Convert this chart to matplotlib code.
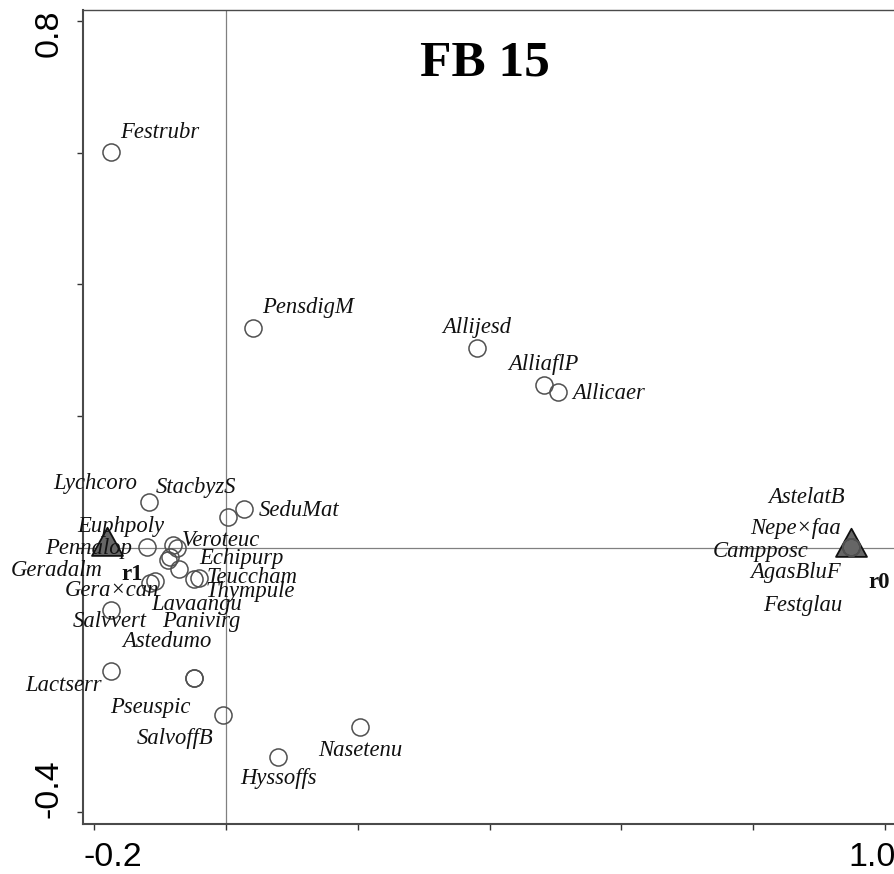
import matplotlib
matplotlib.use("Agg")
import matplotlib.pyplot as plt
import matplotlib.transforms as mtransforms
from matplotlib.path import Path

# ---------------- data ----------------
species = ["Festrubr", "PensdigM", "Allijesd", "AlliaflP", "Allicaer",
           "Lychcoro", "StacbyzS", "SeduMat", "Euphpoly", "Pennalop",
           "Veroteuc", "Echipurp", "Teuccham", "Thympule", "Geradalm",
           "Gera×can", "Lavaangu", "Panivirg", "Salvvert", "Lactserr",
           "Astedumo", "Pseuspic", "SalvoffB", "Nasetenu", "Hyssoffs",
           "AstelatB", "Nepe×faa", "Campposc", "AgasBluF", "Festglau"]
axis1 = [-0.174, 0.041, 0.381, 0.482, 0.504,
         -0.117, 0.003, 0.028, -0.080, -0.120,
         -0.074, -0.085, -0.041, -0.048, -0.115,
         -0.107, -0.071, -0.088, -0.174, -0.174,
         -0.048, -0.048, -0.004, 0.204, 0.079,
         0.949, 0.949, 0.949, 0.949, 0.949]
axis2 = [0.601, 0.334, 0.304, 0.247, 0.237,
         0.070, 0.047, 0.059, 0.005, 0.001,
         0.000, -0.014, -0.046, -0.047, -0.053,
         -0.050, -0.032, -0.018, -0.094, -0.187,
         -0.197, -0.197, -0.253, -0.271, -0.317,
         0.002, 0.002, 0.002, 0.002, 0.002]

samples = ["r1", "r0"]
samp_x = [-0.180, 0.948]
samp_y = [0.003, 0.002]

xticks = [-0.2, 0.0, 0.2, 0.4, 0.6, 0.8, 1.0]
xticklabels = ["-0.2", "", "", "", "", "", "1.0"]
yticks = [-0.4, -0.2, 0.0, 0.2, 0.4, 0.6, 0.8]
yticklabels = ["-0.4", "", "", "", "", "", "0.8"]
title = "FB 15"

# ---------------- layout (label offsets in pixels) ----------------
label_dx = [9, 9, -35, -35, 14,
            -95, -72, 14, -96, -102,
            5, 29, 8, 11, -139,
            -91, -28, -6, -38, -86,
            -72, -84, -86, -42, -38,
            -83, -101, -139, -101, -88]
label_dy = [14, 15, 15, 15, -7,
            13, 24, -7, 13, -7,
            2, -7, -5, -18, 7,
            -15, -41, -67, -17, -20,
            31, -35, -29, -29, -27,
            44, 13, -10, -31, -64]
samp_dx = [14, 18]
samp_dy = [-34, -41]

W, H = 894, 874
fig = plt.figure(figsize=(W / 100, H / 100), dpi=100)
ax = fig.add_axes([83 / W, (H - 823.5) / H, 813 / W, 813.5 / H])
ax.set_xlim(-0.2167, 1.0167)
ax.set_ylim(-0.418, 0.8162)

# zero lines
ax.axvline(0, color="#808080", lw=0.9, zorder=1)
ax.axhline(0, color="#808080", lw=0.9, zorder=1)

# sample triangles (centroid-anchored)
tri = Path([(0, 2 / 3), (-0.55, -1 / 3), (0.55, -1 / 3), (0, 2 / 3)],
           [Path.MOVETO, Path.LINETO, Path.LINETO, Path.CLOSEPOLY])
ax.plot(samp_x, samp_y, linestyle="none", marker=tri, markersize=27,
        markerfacecolor="#666666", markeredgecolor="#111111",
        markeredgewidth=1.3, zorder=3)

# species circles
ax.plot(axis1, axis2, linestyle="none", marker="o", markersize=12.3,
        markerfacecolor="none", markeredgecolor="#505050",
        markeredgewidth=1.1, zorder=4)

for name, x, y, dx, dy in zip(species, axis1, axis2, label_dx, label_dy):
    ax.annotate(name, (x, y), xytext=(dx, dy), textcoords="offset pixels",
                ha="left", va="baseline", fontfamily="Liberation Serif",
                style="italic", fontsize=16.3, color="#111111",
                annotation_clip=False, zorder=5)

for name, x, y, dx, dy in zip(samples, samp_x, samp_y, samp_dx, samp_dy):
    ax.annotate(name, (x, y), xytext=(dx, dy), textcoords="offset pixels",
                ha="left", va="baseline", fontfamily="Liberation Serif",
                fontweight="bold", fontsize=16.5, color="#111111",
                annotation_clip=False, zorder=5)

# title
fig.text(485 / W, (H - 75) / H, title, ha="center", va="baseline",
         fontfamily="Liberation Serif", fontweight="bold", fontsize=37)

# spines & ticks
for s in ["left", "bottom"]:
    ax.spines[s].set_linewidth(1.5)
    ax.spines[s].set_color("#4a4a4a")
ax.spines["top"].set_linewidth(1.0)
ax.spines["top"].set_color("#4a4a4a")
ax.spines["right"].set_visible(False)

ax.set_xticks(xticks)
ax.set_xticklabels(xticklabels)
ax.set_yticks(yticks)
ax.set_yticklabels(yticklabels)
ax.tick_params(direction="out", length=4, width=1.0, color="#333333",
               labelsize=24.5, pad=9.5)
for lab in ax.get_xticklabels() + ax.get_yticklabels():
    lab.set_fontfamily("Liberation Sans")

xl = ax.get_xticklabels()
xl[0].set_ha("left")
xl[0].set_transform(xl[0].get_transform() +
                    mtransforms.ScaledTranslation(-11 / 100, 0, fig.dpi_scale_trans))
xl[-1].set_ha("left")
xl[-1].set_transform(xl[-1].get_transform() +
                     mtransforms.ScaledTranslation(-37 / 100, 0, fig.dpi_scale_trans))

yl = ax.get_yticklabels()
for lab in yl:
    lab.set_rotation(90)
yl[0].set_va("bottom")
yl[0].set_transform(yl[0].get_transform() +
                    mtransforms.ScaledTranslation(0, -6 / 100, fig.dpi_scale_trans))
yl[-1].set_va("top")
yl[-1].set_transform(yl[-1].get_transform() +
                     mtransforms.ScaledTranslation(0, 11 / 100, fig.dpi_scale_trans))

fig.savefig("out.png", dpi=100)
